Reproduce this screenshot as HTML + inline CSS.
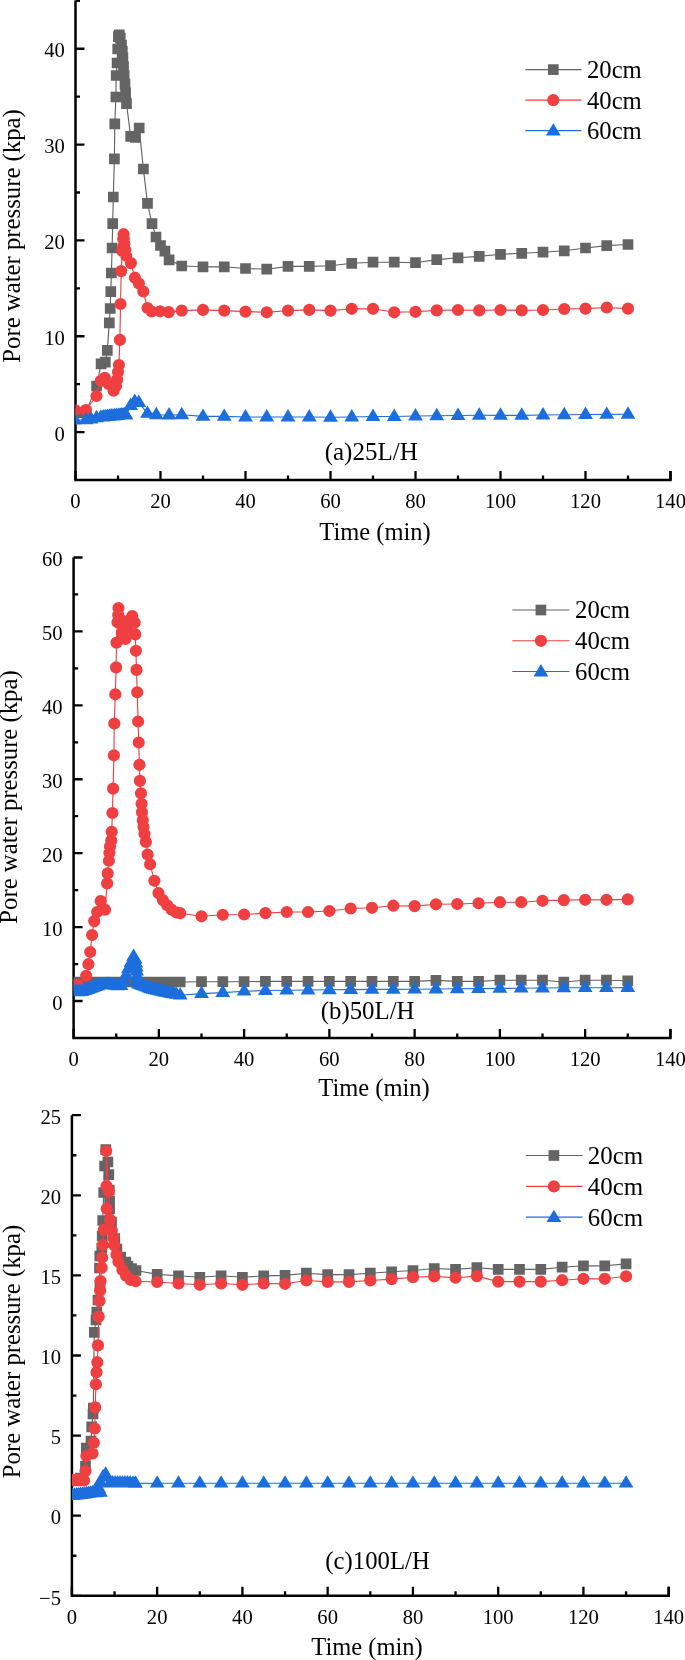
<!DOCTYPE html>
<html><head><meta charset="utf-8"><style>
html,body{margin:0;padding:0;background:#fff;}
svg{display:block;}
text{font-family:"Liberation Serif",serif;fill:#000;}
</style></head><body>
<svg style="will-change:transform" width="685" height="1660" viewBox="0 0 685 1660">
<rect width="685" height="1660" fill="#fff"/>
<g><path d="M75.5 0.5V480H670.5V471" fill="none" stroke="#000" stroke-width="2.5" stroke-linejoin="miter"/><path d="M75.5 432.08h9M75.5 384.17h4.5M75.5 336.25h9M75.5 288.34h4.5M75.5 240.42h9M75.5 192.51h4.5M75.5 144.59h9M75.5 96.68h4.5M75.5 48.76h9M75.5 0.85h4.5M75.5 480v-9M118 480v-4.5M160.5 480v-9M203 480v-4.5M245.5 480v-9M288 480v-4.5M330.5 480v-9M373 480v-4.5M415.5 480v-9M458 480v-4.5M500.5 480v-9M543 480v-4.5M585.5 480v-9M628 480v-4.5M670.5 480v-9" stroke="#000" stroke-width="2.3" fill="none"/><g font-size="20.6"><text x="64.8" y="440.78" text-anchor="end">0</text><text x="64.8" y="344.95" text-anchor="end">10</text><text x="64.8" y="249.12" text-anchor="end">20</text><text x="64.8" y="153.29" text-anchor="end">30</text><text x="64.8" y="57.46" text-anchor="end">40</text><text x="75.5" y="507.6" text-anchor="middle">0</text><text x="160.5" y="507.6" text-anchor="middle">20</text><text x="245.5" y="507.6" text-anchor="middle">40</text><text x="330.5" y="507.6" text-anchor="middle">60</text><text x="415.5" y="507.6" text-anchor="middle">80</text><text x="500.5" y="507.6" text-anchor="middle">100</text><text x="585.5" y="507.6" text-anchor="middle">120</text><text x="670.5" y="507.6" text-anchor="middle">140</text></g><text x="375" y="539.8" text-anchor="middle" font-size="24.5">Time (min)</text><text transform="translate(19.9 236) rotate(-90)" text-anchor="middle" font-size="24.4" textLength="253.5" lengthAdjust="spacingAndGlyphs">Pore water pressure (kpa)</text><text x="324.7" y="459.6" font-size="24.3" textLength="93.1" lengthAdjust="spacingAndGlyphs">(a)25L/H</text></g><g clip-path="url(#c0)"><clipPath id="c0"><rect x="75.5" y="-29.5" width="615" height="509.5"/></clipPath><polyline points="75.5,413 80.4,413 86,412 96.6,386 101.1,363.8 105.3,362.2 107.3,350.4 109.3,322.8 110.2,308.5 110.8,291.7 111.4,273 112.1,248 112.7,223.7 113.3,197 114.4,158.8 114.8,123.8 115.9,97 116.2,75.5 117.1,63 117.7,49 118.4,36.6 119.3,34.8 120.3,38 121.5,45 122.3,51.4 122.9,57.9 123.5,66.6 124.1,75.4 125,84.1 125.6,92.9 126.5,103.7 130.7,136.4 135.3,137.5 139.2,128 143.4,169 147.5,203.4 152,223.7 156,237 160.5,245.5 164.9,251.2 169.1,259.8 181.75,266 203,266.8 224.25,266.8 245.5,268.5 266.75,269.2 288,266.4 309.25,266.4 330.5,265.7 351.75,263.3 373,262.2 394.25,262.2 415.5,262.7 436.75,259.6 458,257.8 479.25,256.4 500.5,254.3 521.75,253.3 543,252.2 564.25,250.8 585.5,248 606.75,245.6 628,244.5" fill="none" stroke="#626262" stroke-width="1.15" stroke-linejoin="round"/><path d="M70.15 407.65h10.7v10.7h-10.7zM75.05 407.65h10.7v10.7h-10.7zM80.65 406.65h10.7v10.7h-10.7zM91.25 380.65h10.7v10.7h-10.7zM95.75 358.45h10.7v10.7h-10.7zM99.95 356.85h10.7v10.7h-10.7zM101.95 345.05h10.7v10.7h-10.7zM103.95 317.45h10.7v10.7h-10.7zM104.85 303.15h10.7v10.7h-10.7zM105.45 286.35h10.7v10.7h-10.7zM106.05 267.65h10.7v10.7h-10.7zM106.75 242.65h10.7v10.7h-10.7zM107.35 218.35h10.7v10.7h-10.7zM107.95 191.65h10.7v10.7h-10.7zM109.05 153.45h10.7v10.7h-10.7zM109.45 118.45h10.7v10.7h-10.7zM110.55 91.65h10.7v10.7h-10.7zM110.85 70.15h10.7v10.7h-10.7zM111.75 57.65h10.7v10.7h-10.7zM112.35 43.65h10.7v10.7h-10.7zM113.05 31.25h10.7v10.7h-10.7zM113.95 29.45h10.7v10.7h-10.7zM114.95 32.65h10.7v10.7h-10.7zM116.15 39.65h10.7v10.7h-10.7zM116.95 46.05h10.7v10.7h-10.7zM117.55 52.55h10.7v10.7h-10.7zM118.15 61.25h10.7v10.7h-10.7zM118.75 70.05h10.7v10.7h-10.7zM119.65 78.75h10.7v10.7h-10.7zM120.25 87.55h10.7v10.7h-10.7zM121.15 98.35h10.7v10.7h-10.7zM125.35 131.05h10.7v10.7h-10.7zM129.95 132.15h10.7v10.7h-10.7zM133.85 122.65h10.7v10.7h-10.7zM138.05 163.65h10.7v10.7h-10.7zM142.15 198.05h10.7v10.7h-10.7zM146.65 218.35h10.7v10.7h-10.7zM150.65 231.65h10.7v10.7h-10.7zM155.15 240.15h10.7v10.7h-10.7zM159.55 245.85h10.7v10.7h-10.7zM163.75 254.45h10.7v10.7h-10.7zM176.4 260.65h10.7v10.7h-10.7zM197.65 261.45h10.7v10.7h-10.7zM218.9 261.45h10.7v10.7h-10.7zM240.15 263.15h10.7v10.7h-10.7zM261.4 263.85h10.7v10.7h-10.7zM282.65 261.05h10.7v10.7h-10.7zM303.9 261.05h10.7v10.7h-10.7zM325.15 260.35h10.7v10.7h-10.7zM346.4 257.95h10.7v10.7h-10.7zM367.65 256.85h10.7v10.7h-10.7zM388.9 256.85h10.7v10.7h-10.7zM410.15 257.35h10.7v10.7h-10.7zM431.4 254.25h10.7v10.7h-10.7zM452.65 252.45h10.7v10.7h-10.7zM473.9 251.05h10.7v10.7h-10.7zM495.15 248.95h10.7v10.7h-10.7zM516.4 247.95h10.7v10.7h-10.7zM537.65 246.85h10.7v10.7h-10.7zM558.9 245.45h10.7v10.7h-10.7zM580.15 242.65h10.7v10.7h-10.7zM601.4 240.25h10.7v10.7h-10.7zM622.65 239.15h10.7v10.7h-10.7z" fill="#646464"/><polyline points="75,410 85.9,410 96.5,396 100.8,380.8 104.8,377.9 108.5,384 113.6,390.7 116,386 117.1,379.6 118,372 118.9,365 119.9,339.9 120.5,304 121.2,271.1 122.2,251 123.2,239 123.6,234.2 123.8,238.5 124.3,243.4 123,247.5 125.2,250 126.2,255.8 130.9,263.1 134.9,277.7 138.9,283.5 143.3,291.5 147.5,308 151.6,311.5 160.1,311.3 168.8,312.1 181.75,310.6 203,309.9 224.25,310.6 245.5,311.6 266.75,312.3 288,310.6 309.25,309.9 330.5,310.6 351.75,308.8 373,308.8 394.25,312.3 415.5,311.8 436.75,310.4 458,310 479.25,310.4 500.5,310 521.75,310.4 543,310 564.25,309 585.5,308.6 606.75,307.5 628,308.6" fill="none" stroke="#EF3F40" stroke-width="1.15" stroke-linejoin="round"/><path d="M68.9 410a6.1 6.1 0 1 0 12.2 0a6.1 6.1 0 1 0 -12.2 0zM79.8 410a6.1 6.1 0 1 0 12.2 0a6.1 6.1 0 1 0 -12.2 0zM90.4 396a6.1 6.1 0 1 0 12.2 0a6.1 6.1 0 1 0 -12.2 0zM94.7 380.8a6.1 6.1 0 1 0 12.2 0a6.1 6.1 0 1 0 -12.2 0zM98.7 377.9a6.1 6.1 0 1 0 12.2 0a6.1 6.1 0 1 0 -12.2 0zM102.4 384a6.1 6.1 0 1 0 12.2 0a6.1 6.1 0 1 0 -12.2 0zM107.5 390.7a6.1 6.1 0 1 0 12.2 0a6.1 6.1 0 1 0 -12.2 0zM109.9 386a6.1 6.1 0 1 0 12.2 0a6.1 6.1 0 1 0 -12.2 0zM111 379.6a6.1 6.1 0 1 0 12.2 0a6.1 6.1 0 1 0 -12.2 0zM111.9 372a6.1 6.1 0 1 0 12.2 0a6.1 6.1 0 1 0 -12.2 0zM112.8 365a6.1 6.1 0 1 0 12.2 0a6.1 6.1 0 1 0 -12.2 0zM113.8 339.9a6.1 6.1 0 1 0 12.2 0a6.1 6.1 0 1 0 -12.2 0zM114.4 304a6.1 6.1 0 1 0 12.2 0a6.1 6.1 0 1 0 -12.2 0zM115.1 271.1a6.1 6.1 0 1 0 12.2 0a6.1 6.1 0 1 0 -12.2 0zM116.1 251a6.1 6.1 0 1 0 12.2 0a6.1 6.1 0 1 0 -12.2 0zM117.1 239a6.1 6.1 0 1 0 12.2 0a6.1 6.1 0 1 0 -12.2 0zM117.5 234.2a6.1 6.1 0 1 0 12.2 0a6.1 6.1 0 1 0 -12.2 0zM117.7 238.5a6.1 6.1 0 1 0 12.2 0a6.1 6.1 0 1 0 -12.2 0zM118.2 243.4a6.1 6.1 0 1 0 12.2 0a6.1 6.1 0 1 0 -12.2 0zM116.9 247.5a6.1 6.1 0 1 0 12.2 0a6.1 6.1 0 1 0 -12.2 0zM119.1 250a6.1 6.1 0 1 0 12.2 0a6.1 6.1 0 1 0 -12.2 0zM120.1 255.8a6.1 6.1 0 1 0 12.2 0a6.1 6.1 0 1 0 -12.2 0zM124.8 263.1a6.1 6.1 0 1 0 12.2 0a6.1 6.1 0 1 0 -12.2 0zM128.8 277.7a6.1 6.1 0 1 0 12.2 0a6.1 6.1 0 1 0 -12.2 0zM132.8 283.5a6.1 6.1 0 1 0 12.2 0a6.1 6.1 0 1 0 -12.2 0zM137.2 291.5a6.1 6.1 0 1 0 12.2 0a6.1 6.1 0 1 0 -12.2 0zM141.4 308a6.1 6.1 0 1 0 12.2 0a6.1 6.1 0 1 0 -12.2 0zM145.5 311.5a6.1 6.1 0 1 0 12.2 0a6.1 6.1 0 1 0 -12.2 0zM154 311.3a6.1 6.1 0 1 0 12.2 0a6.1 6.1 0 1 0 -12.2 0zM162.7 312.1a6.1 6.1 0 1 0 12.2 0a6.1 6.1 0 1 0 -12.2 0zM175.65 310.6a6.1 6.1 0 1 0 12.2 0a6.1 6.1 0 1 0 -12.2 0zM196.9 309.9a6.1 6.1 0 1 0 12.2 0a6.1 6.1 0 1 0 -12.2 0zM218.15 310.6a6.1 6.1 0 1 0 12.2 0a6.1 6.1 0 1 0 -12.2 0zM239.4 311.6a6.1 6.1 0 1 0 12.2 0a6.1 6.1 0 1 0 -12.2 0zM260.65 312.3a6.1 6.1 0 1 0 12.2 0a6.1 6.1 0 1 0 -12.2 0zM281.9 310.6a6.1 6.1 0 1 0 12.2 0a6.1 6.1 0 1 0 -12.2 0zM303.15 309.9a6.1 6.1 0 1 0 12.2 0a6.1 6.1 0 1 0 -12.2 0zM324.4 310.6a6.1 6.1 0 1 0 12.2 0a6.1 6.1 0 1 0 -12.2 0zM345.65 308.8a6.1 6.1 0 1 0 12.2 0a6.1 6.1 0 1 0 -12.2 0zM366.9 308.8a6.1 6.1 0 1 0 12.2 0a6.1 6.1 0 1 0 -12.2 0zM388.15 312.3a6.1 6.1 0 1 0 12.2 0a6.1 6.1 0 1 0 -12.2 0zM409.4 311.8a6.1 6.1 0 1 0 12.2 0a6.1 6.1 0 1 0 -12.2 0zM430.65 310.4a6.1 6.1 0 1 0 12.2 0a6.1 6.1 0 1 0 -12.2 0zM451.9 310a6.1 6.1 0 1 0 12.2 0a6.1 6.1 0 1 0 -12.2 0zM473.15 310.4a6.1 6.1 0 1 0 12.2 0a6.1 6.1 0 1 0 -12.2 0zM494.4 310a6.1 6.1 0 1 0 12.2 0a6.1 6.1 0 1 0 -12.2 0zM515.65 310.4a6.1 6.1 0 1 0 12.2 0a6.1 6.1 0 1 0 -12.2 0zM536.9 310a6.1 6.1 0 1 0 12.2 0a6.1 6.1 0 1 0 -12.2 0zM558.15 309a6.1 6.1 0 1 0 12.2 0a6.1 6.1 0 1 0 -12.2 0zM579.4 308.6a6.1 6.1 0 1 0 12.2 0a6.1 6.1 0 1 0 -12.2 0zM600.65 307.5a6.1 6.1 0 1 0 12.2 0a6.1 6.1 0 1 0 -12.2 0zM621.9 308.6a6.1 6.1 0 1 0 12.2 0a6.1 6.1 0 1 0 -12.2 0z" fill="#EF3F40"/><polyline points="75,420 86,419.9 91,419 96.5,417.8 100.9,417.2 103.2,417 105.3,416.7 107.4,416.5 109.4,416.3 111.2,416 113,416 114.8,415.8 116.5,415.6 118.3,415.4 120,415.2 121.5,415 123,415 124.5,415 126,415 130.6,405.6 134.7,401.5 138.8,402.6 147.5,413.4 156.3,414.8 169.1,415.1 181.75,414.8 203,416.4 224.25,416.4 245.5,417 266.75,417 288,417 309.25,417 330.5,417.3 351.75,417 373,416.5 394.25,416.5 415.5,416 436.75,415.8 458,415.5 479.25,415.3 500.5,415.3 521.75,415.3 543,415 564.25,414.8 585.5,414.5 606.75,414.4 628,414.3" fill="none" stroke="#1F6FDD" stroke-width="1.15" stroke-linejoin="round"/><path d="M75 412L82.4 424.4L67.6 424.4zM86 411.9L93.4 424.3L78.6 424.3zM91 411L98.4 423.4L83.6 423.4zM96.5 409.8L103.9 422.2L89.1 422.2zM100.9 409.2L108.3 421.6L93.5 421.6zM103.2 409L110.6 421.4L95.8 421.4zM105.3 408.7L112.7 421.1L97.9 421.1zM107.4 408.5L114.8 420.9L100 420.9zM109.4 408.3L116.8 420.7L102 420.7zM111.2 408L118.6 420.4L103.8 420.4zM113 408L120.4 420.4L105.6 420.4zM114.8 407.8L122.2 420.2L107.4 420.2zM116.5 407.6L123.9 420L109.1 420zM118.3 407.4L125.7 419.8L110.9 419.8zM120 407.2L127.4 419.6L112.6 419.6zM121.5 407L128.9 419.4L114.1 419.4zM123 407L130.4 419.4L115.6 419.4zM124.5 407L131.9 419.4L117.1 419.4zM126 407L133.4 419.4L118.6 419.4zM130.6 397.6L138 410L123.2 410zM134.7 393.5L142.1 405.9L127.3 405.9zM138.8 394.6L146.2 407L131.4 407zM147.5 405.4L154.9 417.8L140.1 417.8zM156.3 406.8L163.7 419.2L148.9 419.2zM169.1 407.1L176.5 419.5L161.7 419.5zM181.75 406.8L189.15 419.2L174.35 419.2zM203 408.4L210.4 420.8L195.6 420.8zM224.25 408.4L231.65 420.8L216.85 420.8zM245.5 409L252.9 421.4L238.1 421.4zM266.75 409L274.15 421.4L259.35 421.4zM288 409L295.4 421.4L280.6 421.4zM309.25 409L316.65 421.4L301.85 421.4zM330.5 409.3L337.9 421.7L323.1 421.7zM351.75 409L359.15 421.4L344.35 421.4zM373 408.5L380.4 420.9L365.6 420.9zM394.25 408.5L401.65 420.9L386.85 420.9zM415.5 408L422.9 420.4L408.1 420.4zM436.75 407.8L444.15 420.2L429.35 420.2zM458 407.5L465.4 419.9L450.6 419.9zM479.25 407.3L486.65 419.7L471.85 419.7zM500.5 407.3L507.9 419.7L493.1 419.7zM521.75 407.3L529.15 419.7L514.35 419.7zM543 407L550.4 419.4L535.6 419.4zM564.25 406.8L571.65 419.2L556.85 419.2zM585.5 406.5L592.9 418.9L578.1 418.9zM606.75 406.4L614.15 418.8L599.35 418.8zM628 406.3L635.4 418.7L620.6 418.7z" fill="#1C6EDD"/></g><g><path d="M525.3 69.6H581.5" stroke="#626262" stroke-width="1.1"/><path d="M547.95 64.25h10.7v10.7h-10.7z" fill="#646464"/><text x="587" y="78" font-size="25.8" textLength="54.8" lengthAdjust="spacingAndGlyphs">20cm</text><path d="M525.3 100.1H581.5" stroke="#EF3F40" stroke-width="1.1"/><path d="M547.2 100.1a6.1 6.1 0 1 0 12.2 0a6.1 6.1 0 1 0 -12.2 0z" fill="#EF3F40"/><text x="587" y="108.6" font-size="25.8" textLength="54.8" lengthAdjust="spacingAndGlyphs">40cm</text><path d="M525.3 130.6H581.5" stroke="#1F6FDD" stroke-width="1.1"/><path d="M553.3 123.2L560.7 135.6L545.9 135.6z" fill="#1C6EDD"/><text x="587" y="139.2" font-size="25.8" textLength="54.8" lengthAdjust="spacingAndGlyphs">60cm</text></g>
<g><path d="M73.6 557.5V1038H670.4V1029" fill="none" stroke="#000" stroke-width="2.5" stroke-linejoin="miter"/><path d="M73.6 1001h9M73.6 964.04h4.5M73.6 927.08h9M73.6 890.12h4.5M73.6 853.16h9M73.6 816.2h4.5M73.6 779.24h9M73.6 742.28h4.5M73.6 705.32h9M73.6 668.36h4.5M73.6 631.4h9M73.6 594.44h4.5M73.6 557.48h9M73.6 1038v-9M116.23 1038v-4.5M158.86 1038v-9M201.49 1038v-4.5M244.11 1038v-9M286.74 1038v-4.5M329.37 1038v-9M372 1038v-4.5M414.63 1038v-9M457.26 1038v-4.5M499.89 1038v-9M542.51 1038v-4.5M585.14 1038v-9M627.77 1038v-4.5M670.4 1038v-9" stroke="#000" stroke-width="2.3" fill="none"/><g font-size="20.6"><text x="62.6" y="1009.7" text-anchor="end">0</text><text x="62.6" y="935.78" text-anchor="end">10</text><text x="62.6" y="861.86" text-anchor="end">20</text><text x="62.6" y="787.94" text-anchor="end">30</text><text x="62.6" y="714.02" text-anchor="end">40</text><text x="62.6" y="640.1" text-anchor="end">50</text><text x="62.6" y="566.18" text-anchor="end">60</text><text x="73.6" y="1065.8" text-anchor="middle">0</text><text x="158.86" y="1065.8" text-anchor="middle">20</text><text x="244.11" y="1065.8" text-anchor="middle">40</text><text x="329.37" y="1065.8" text-anchor="middle">60</text><text x="414.63" y="1065.8" text-anchor="middle">80</text><text x="499.89" y="1065.8" text-anchor="middle">100</text><text x="585.14" y="1065.8" text-anchor="middle">120</text><text x="670.4" y="1065.8" text-anchor="middle">140</text></g><text x="374" y="1095.6" text-anchor="middle" font-size="24.5">Time (min)</text><text transform="translate(17 797) rotate(-90)" text-anchor="middle" font-size="24.4" textLength="253.4" lengthAdjust="spacingAndGlyphs">Pore water pressure (kpa)</text><text x="320.7" y="1018.5" font-size="24.3" textLength="93.9" lengthAdjust="spacingAndGlyphs">(b)50L/H</text></g><g clip-path="url(#c1)"><clipPath id="c1"><rect x="73.6" y="527.5" width="616.8" height="510.5"/></clipPath><polyline points="73.6,982 75.73,982 77.86,982 79.99,982 82.13,982 84.26,982 86.39,982 88.52,982 90.65,982 92.78,982 94.91,982 97.05,982 99.18,982 101.31,982 103.44,982 105.57,982 107.7,982 109.83,982 111.97,982 114.1,982 116.23,982 118.36,982 120.49,982 122.62,982 124.75,982 126.89,982 129.02,982 131.15,982 133.28,982 135.41,982 137.54,982 139.67,982 141.81,982 143.94,982 146.07,982 148.2,982 150.33,982 152.46,982 154.59,982 156.73,982 158.86,982 160.99,982 163.12,982 165.25,982 167.38,982 169.51,982 171.65,982 173.78,982 175.91,982 178.04,982 180.17,982 201.49,981.7 222.8,981.7 244.11,981.7 265.43,981.4 286.74,981.4 308.06,981.4 329.37,981.4 350.69,981.4 372,981.4 393.31,981.4 414.63,981.4 435.94,980.4 457.26,981.4 478.57,981.4 499.89,980.2 521.2,980.2 542.51,980.2 563.83,982 585.14,980.2 606.46,980.2 627.77,980.8" fill="none" stroke="#626262" stroke-width="1.15" stroke-linejoin="round"/><path d="M68.25 976.65h10.7v10.7h-10.7zM70.38 976.65h10.7v10.7h-10.7zM72.51 976.65h10.7v10.7h-10.7zM74.64 976.65h10.7v10.7h-10.7zM76.78 976.65h10.7v10.7h-10.7zM78.91 976.65h10.7v10.7h-10.7zM81.04 976.65h10.7v10.7h-10.7zM83.17 976.65h10.7v10.7h-10.7zM85.3 976.65h10.7v10.7h-10.7zM87.43 976.65h10.7v10.7h-10.7zM89.56 976.65h10.7v10.7h-10.7zM91.7 976.65h10.7v10.7h-10.7zM93.83 976.65h10.7v10.7h-10.7zM95.96 976.65h10.7v10.7h-10.7zM98.09 976.65h10.7v10.7h-10.7zM100.22 976.65h10.7v10.7h-10.7zM102.35 976.65h10.7v10.7h-10.7zM104.48 976.65h10.7v10.7h-10.7zM106.62 976.65h10.7v10.7h-10.7zM108.75 976.65h10.7v10.7h-10.7zM110.88 976.65h10.7v10.7h-10.7zM113.01 976.65h10.7v10.7h-10.7zM115.14 976.65h10.7v10.7h-10.7zM117.27 976.65h10.7v10.7h-10.7zM119.4 976.65h10.7v10.7h-10.7zM121.54 976.65h10.7v10.7h-10.7zM123.67 976.65h10.7v10.7h-10.7zM125.8 976.65h10.7v10.7h-10.7zM127.93 976.65h10.7v10.7h-10.7zM130.06 976.65h10.7v10.7h-10.7zM132.19 976.65h10.7v10.7h-10.7zM134.32 976.65h10.7v10.7h-10.7zM136.46 976.65h10.7v10.7h-10.7zM138.59 976.65h10.7v10.7h-10.7zM140.72 976.65h10.7v10.7h-10.7zM142.85 976.65h10.7v10.7h-10.7zM144.98 976.65h10.7v10.7h-10.7zM147.11 976.65h10.7v10.7h-10.7zM149.24 976.65h10.7v10.7h-10.7zM151.38 976.65h10.7v10.7h-10.7zM153.51 976.65h10.7v10.7h-10.7zM155.64 976.65h10.7v10.7h-10.7zM157.77 976.65h10.7v10.7h-10.7zM159.9 976.65h10.7v10.7h-10.7zM162.03 976.65h10.7v10.7h-10.7zM164.16 976.65h10.7v10.7h-10.7zM166.3 976.65h10.7v10.7h-10.7zM168.43 976.65h10.7v10.7h-10.7zM170.56 976.65h10.7v10.7h-10.7zM172.69 976.65h10.7v10.7h-10.7zM174.82 976.65h10.7v10.7h-10.7zM196.14 976.35h10.7v10.7h-10.7zM217.45 976.35h10.7v10.7h-10.7zM238.76 976.35h10.7v10.7h-10.7zM260.08 976.05h10.7v10.7h-10.7zM281.39 976.05h10.7v10.7h-10.7zM302.71 976.05h10.7v10.7h-10.7zM324.02 976.05h10.7v10.7h-10.7zM345.34 976.05h10.7v10.7h-10.7zM366.65 976.05h10.7v10.7h-10.7zM387.96 976.05h10.7v10.7h-10.7zM409.28 976.05h10.7v10.7h-10.7zM430.59 975.05h10.7v10.7h-10.7zM451.91 976.05h10.7v10.7h-10.7zM473.22 976.05h10.7v10.7h-10.7zM494.54 974.85h10.7v10.7h-10.7zM515.85 974.85h10.7v10.7h-10.7zM537.16 974.85h10.7v10.7h-10.7zM558.48 976.65h10.7v10.7h-10.7zM579.79 974.85h10.7v10.7h-10.7zM601.11 974.85h10.7v10.7h-10.7zM622.42 975.45h10.7v10.7h-10.7z" fill="#646464"/><polyline points="73.5,985 78,985 86.2,975.8 88.4,964.2 90.2,952 92.1,935 94.2,921.1 97.2,912 100.7,901 105,909.7 107.1,883.4 107.7,873.4 108.9,860.7 109.4,852.8 110,846.6 111.2,840.5 111.7,831.8 112.4,813 113.1,788.6 113.9,755.3 114.3,723.5 115.3,694.3 116.1,667.4 116.5,642.6 117.5,622.3 118.2,615 118.5,608.1 121,620 121.8,633 123,630 125.4,639 127,628 129.5,620 132.3,616 134.6,622.6 135.2,634.4 135.9,650.8 136.5,669.9 137.2,692.3 138.1,721.5 138.7,742.5 139.4,764.8 139.9,780.9 141,793.3 141.6,803.8 142,812.3 142.8,820.3 143.5,827 144.5,834 145.9,841.9 147.6,854.5 150.1,864.2 154.4,880.8 158.5,893.1 162.9,900.1 167.2,905.3 171.6,909.7 176,912.3 180.17,913.2 201.49,916.3 222.8,914.8 244.11,914.5 265.43,913.1 286.74,912 308.06,912 329.37,911 350.69,908.5 372,907.8 393.31,905.7 414.63,906.1 435.94,904.3 457.26,904 478.57,903.3 499.89,902.2 521.2,902.2 542.51,900.8 563.83,900.1 585.14,899.8 606.46,899.8 627.77,899.4" fill="none" stroke="#EF3F40" stroke-width="1.15" stroke-linejoin="round"/><path d="M67.4 985a6.1 6.1 0 1 0 12.2 0a6.1 6.1 0 1 0 -12.2 0zM71.9 985a6.1 6.1 0 1 0 12.2 0a6.1 6.1 0 1 0 -12.2 0zM80.1 975.8a6.1 6.1 0 1 0 12.2 0a6.1 6.1 0 1 0 -12.2 0zM82.3 964.2a6.1 6.1 0 1 0 12.2 0a6.1 6.1 0 1 0 -12.2 0zM84.1 952a6.1 6.1 0 1 0 12.2 0a6.1 6.1 0 1 0 -12.2 0zM86 935a6.1 6.1 0 1 0 12.2 0a6.1 6.1 0 1 0 -12.2 0zM88.1 921.1a6.1 6.1 0 1 0 12.2 0a6.1 6.1 0 1 0 -12.2 0zM91.1 912a6.1 6.1 0 1 0 12.2 0a6.1 6.1 0 1 0 -12.2 0zM94.6 901a6.1 6.1 0 1 0 12.2 0a6.1 6.1 0 1 0 -12.2 0zM98.9 909.7a6.1 6.1 0 1 0 12.2 0a6.1 6.1 0 1 0 -12.2 0zM101 883.4a6.1 6.1 0 1 0 12.2 0a6.1 6.1 0 1 0 -12.2 0zM101.6 873.4a6.1 6.1 0 1 0 12.2 0a6.1 6.1 0 1 0 -12.2 0zM102.8 860.7a6.1 6.1 0 1 0 12.2 0a6.1 6.1 0 1 0 -12.2 0zM103.3 852.8a6.1 6.1 0 1 0 12.2 0a6.1 6.1 0 1 0 -12.2 0zM103.9 846.6a6.1 6.1 0 1 0 12.2 0a6.1 6.1 0 1 0 -12.2 0zM105.1 840.5a6.1 6.1 0 1 0 12.2 0a6.1 6.1 0 1 0 -12.2 0zM105.6 831.8a6.1 6.1 0 1 0 12.2 0a6.1 6.1 0 1 0 -12.2 0zM106.3 813a6.1 6.1 0 1 0 12.2 0a6.1 6.1 0 1 0 -12.2 0zM107 788.6a6.1 6.1 0 1 0 12.2 0a6.1 6.1 0 1 0 -12.2 0zM107.8 755.3a6.1 6.1 0 1 0 12.2 0a6.1 6.1 0 1 0 -12.2 0zM108.2 723.5a6.1 6.1 0 1 0 12.2 0a6.1 6.1 0 1 0 -12.2 0zM109.2 694.3a6.1 6.1 0 1 0 12.2 0a6.1 6.1 0 1 0 -12.2 0zM110 667.4a6.1 6.1 0 1 0 12.2 0a6.1 6.1 0 1 0 -12.2 0zM110.4 642.6a6.1 6.1 0 1 0 12.2 0a6.1 6.1 0 1 0 -12.2 0zM111.4 622.3a6.1 6.1 0 1 0 12.2 0a6.1 6.1 0 1 0 -12.2 0zM112.1 615a6.1 6.1 0 1 0 12.2 0a6.1 6.1 0 1 0 -12.2 0zM112.4 608.1a6.1 6.1 0 1 0 12.2 0a6.1 6.1 0 1 0 -12.2 0zM114.9 620a6.1 6.1 0 1 0 12.2 0a6.1 6.1 0 1 0 -12.2 0zM115.7 633a6.1 6.1 0 1 0 12.2 0a6.1 6.1 0 1 0 -12.2 0zM116.9 630a6.1 6.1 0 1 0 12.2 0a6.1 6.1 0 1 0 -12.2 0zM119.3 639a6.1 6.1 0 1 0 12.2 0a6.1 6.1 0 1 0 -12.2 0zM120.9 628a6.1 6.1 0 1 0 12.2 0a6.1 6.1 0 1 0 -12.2 0zM123.4 620a6.1 6.1 0 1 0 12.2 0a6.1 6.1 0 1 0 -12.2 0zM126.2 616a6.1 6.1 0 1 0 12.2 0a6.1 6.1 0 1 0 -12.2 0zM128.5 622.6a6.1 6.1 0 1 0 12.2 0a6.1 6.1 0 1 0 -12.2 0zM129.1 634.4a6.1 6.1 0 1 0 12.2 0a6.1 6.1 0 1 0 -12.2 0zM129.8 650.8a6.1 6.1 0 1 0 12.2 0a6.1 6.1 0 1 0 -12.2 0zM130.4 669.9a6.1 6.1 0 1 0 12.2 0a6.1 6.1 0 1 0 -12.2 0zM131.1 692.3a6.1 6.1 0 1 0 12.2 0a6.1 6.1 0 1 0 -12.2 0zM132 721.5a6.1 6.1 0 1 0 12.2 0a6.1 6.1 0 1 0 -12.2 0zM132.6 742.5a6.1 6.1 0 1 0 12.2 0a6.1 6.1 0 1 0 -12.2 0zM133.3 764.8a6.1 6.1 0 1 0 12.2 0a6.1 6.1 0 1 0 -12.2 0zM133.8 780.9a6.1 6.1 0 1 0 12.2 0a6.1 6.1 0 1 0 -12.2 0zM134.9 793.3a6.1 6.1 0 1 0 12.2 0a6.1 6.1 0 1 0 -12.2 0zM135.5 803.8a6.1 6.1 0 1 0 12.2 0a6.1 6.1 0 1 0 -12.2 0zM135.9 812.3a6.1 6.1 0 1 0 12.2 0a6.1 6.1 0 1 0 -12.2 0zM136.7 820.3a6.1 6.1 0 1 0 12.2 0a6.1 6.1 0 1 0 -12.2 0zM137.4 827a6.1 6.1 0 1 0 12.2 0a6.1 6.1 0 1 0 -12.2 0zM138.4 834a6.1 6.1 0 1 0 12.2 0a6.1 6.1 0 1 0 -12.2 0zM139.8 841.9a6.1 6.1 0 1 0 12.2 0a6.1 6.1 0 1 0 -12.2 0zM141.5 854.5a6.1 6.1 0 1 0 12.2 0a6.1 6.1 0 1 0 -12.2 0zM144 864.2a6.1 6.1 0 1 0 12.2 0a6.1 6.1 0 1 0 -12.2 0zM148.3 880.8a6.1 6.1 0 1 0 12.2 0a6.1 6.1 0 1 0 -12.2 0zM152.4 893.1a6.1 6.1 0 1 0 12.2 0a6.1 6.1 0 1 0 -12.2 0zM156.8 900.1a6.1 6.1 0 1 0 12.2 0a6.1 6.1 0 1 0 -12.2 0zM161.1 905.3a6.1 6.1 0 1 0 12.2 0a6.1 6.1 0 1 0 -12.2 0zM165.5 909.7a6.1 6.1 0 1 0 12.2 0a6.1 6.1 0 1 0 -12.2 0zM169.9 912.3a6.1 6.1 0 1 0 12.2 0a6.1 6.1 0 1 0 -12.2 0zM174.07 913.2a6.1 6.1 0 1 0 12.2 0a6.1 6.1 0 1 0 -12.2 0zM195.39 916.3a6.1 6.1 0 1 0 12.2 0a6.1 6.1 0 1 0 -12.2 0zM216.7 914.8a6.1 6.1 0 1 0 12.2 0a6.1 6.1 0 1 0 -12.2 0zM238.01 914.5a6.1 6.1 0 1 0 12.2 0a6.1 6.1 0 1 0 -12.2 0zM259.33 913.1a6.1 6.1 0 1 0 12.2 0a6.1 6.1 0 1 0 -12.2 0zM280.64 912a6.1 6.1 0 1 0 12.2 0a6.1 6.1 0 1 0 -12.2 0zM301.96 912a6.1 6.1 0 1 0 12.2 0a6.1 6.1 0 1 0 -12.2 0zM323.27 911a6.1 6.1 0 1 0 12.2 0a6.1 6.1 0 1 0 -12.2 0zM344.59 908.5a6.1 6.1 0 1 0 12.2 0a6.1 6.1 0 1 0 -12.2 0zM365.9 907.8a6.1 6.1 0 1 0 12.2 0a6.1 6.1 0 1 0 -12.2 0zM387.21 905.7a6.1 6.1 0 1 0 12.2 0a6.1 6.1 0 1 0 -12.2 0zM408.53 906.1a6.1 6.1 0 1 0 12.2 0a6.1 6.1 0 1 0 -12.2 0zM429.84 904.3a6.1 6.1 0 1 0 12.2 0a6.1 6.1 0 1 0 -12.2 0zM451.16 904a6.1 6.1 0 1 0 12.2 0a6.1 6.1 0 1 0 -12.2 0zM472.47 903.3a6.1 6.1 0 1 0 12.2 0a6.1 6.1 0 1 0 -12.2 0zM493.79 902.2a6.1 6.1 0 1 0 12.2 0a6.1 6.1 0 1 0 -12.2 0zM515.1 902.2a6.1 6.1 0 1 0 12.2 0a6.1 6.1 0 1 0 -12.2 0zM536.41 900.8a6.1 6.1 0 1 0 12.2 0a6.1 6.1 0 1 0 -12.2 0zM557.73 900.1a6.1 6.1 0 1 0 12.2 0a6.1 6.1 0 1 0 -12.2 0zM579.04 899.8a6.1 6.1 0 1 0 12.2 0a6.1 6.1 0 1 0 -12.2 0zM600.36 899.8a6.1 6.1 0 1 0 12.2 0a6.1 6.1 0 1 0 -12.2 0zM621.67 899.4a6.1 6.1 0 1 0 12.2 0a6.1 6.1 0 1 0 -12.2 0z" fill="#EF3F40"/><polyline points="73.5,991.97 75.5,991.86 77.5,991.75 79.5,991.64 81.5,991.53 83.5,990.95 85.5,990.23 87.5,989.5 89.5,988.77 91.5,988.05 93.5,987.31 95.5,986.54 97.5,985.76 99.5,984.99 101.5,984.75 103.5,984.69 105.5,984.63 107.5,984.58 109.5,984.51 111.5,984.75 113.5,985.08 115.5,985.42 117.5,985.75 121,985.5 123.5,980.5 126,975 128.5,968.5 131,962.5 133.6,956.4 135,959 135.8,963 136.3,967 136.6,971 137,976 137.5,981 138.5,984 140.5,984.77 142.6,985.58 144.7,986.38 146.8,987.22 148.9,988.06 151,988.75 153.1,989.26 155.2,989.78 157.3,990.3 159.4,990.82 161.5,991.34 163.6,991.85 165.7,992.33 167.8,992.72 169.9,993.1 172,993.49 174.1,993.88 176.2,994.26 180.2,995.2 201.49,993.6 222.8,992.6 244.11,991.2 265.43,990.5 286.74,990.2 308.06,990 329.37,989.8 350.69,989.6 372,989.4 393.31,989.4 414.63,989.2 435.94,989 457.26,988.8 478.57,988.6 499.89,988.4 521.2,988.2 542.51,988 563.83,987.8 585.14,987.7 606.46,987.7 627.77,987.6" fill="none" stroke="#1F6FDD" stroke-width="1.15" stroke-linejoin="round"/><path d="M73.5 983.97L80.9 996.37L66.1 996.37zM75.5 983.86L82.9 996.26L68.1 996.26zM77.5 983.75L84.9 996.15L70.1 996.15zM79.5 983.64L86.9 996.04L72.1 996.04zM81.5 983.53L88.9 995.93L74.1 995.93zM83.5 982.95L90.9 995.35L76.1 995.35zM85.5 982.23L92.9 994.63L78.1 994.63zM87.5 981.5L94.9 993.9L80.1 993.9zM89.5 980.77L96.9 993.17L82.1 993.17zM91.5 980.05L98.9 992.45L84.1 992.45zM93.5 979.31L100.9 991.71L86.1 991.71zM95.5 978.54L102.9 990.94L88.1 990.94zM97.5 977.76L104.9 990.16L90.1 990.16zM99.5 976.99L106.9 989.39L92.1 989.39zM101.5 976.75L108.9 989.15L94.1 989.15zM103.5 976.69L110.9 989.09L96.1 989.09zM105.5 976.63L112.9 989.03L98.1 989.03zM107.5 976.58L114.9 988.98L100.1 988.98zM109.5 976.51L116.9 988.91L102.1 988.91zM111.5 976.75L118.9 989.15L104.1 989.15zM113.5 977.08L120.9 989.48L106.1 989.48zM115.5 977.42L122.9 989.82L108.1 989.82zM117.5 977.75L124.9 990.15L110.1 990.15zM121 977.5L128.4 989.9L113.6 989.9zM123.5 972.5L130.9 984.9L116.1 984.9zM126 967L133.4 979.4L118.6 979.4zM128.5 960.5L135.9 972.9L121.1 972.9zM131 954.5L138.4 966.9L123.6 966.9zM133.6 948.4L141 960.8L126.2 960.8zM135 951L142.4 963.4L127.6 963.4zM135.8 955L143.2 967.4L128.4 967.4zM136.3 959L143.7 971.4L128.9 971.4zM136.6 963L144 975.4L129.2 975.4zM137 968L144.4 980.4L129.6 980.4zM137.5 973L144.9 985.4L130.1 985.4zM138.5 976L145.9 988.4L131.1 988.4zM140.5 976.77L147.9 989.17L133.1 989.17zM142.6 977.58L150 989.98L135.2 989.98zM144.7 978.38L152.1 990.78L137.3 990.78zM146.8 979.22L154.2 991.62L139.4 991.62zM148.9 980.06L156.3 992.46L141.5 992.46zM151 980.75L158.4 993.15L143.6 993.15zM153.1 981.26L160.5 993.66L145.7 993.66zM155.2 981.78L162.6 994.18L147.8 994.18zM157.3 982.3L164.7 994.7L149.9 994.7zM159.4 982.82L166.8 995.22L152 995.22zM161.5 983.34L168.9 995.74L154.1 995.74zM163.6 983.85L171 996.25L156.2 996.25zM165.7 984.33L173.1 996.73L158.3 996.73zM167.8 984.72L175.2 997.12L160.4 997.12zM169.9 985.1L177.3 997.5L162.5 997.5zM172 985.49L179.4 997.89L164.6 997.89zM174.1 985.88L181.5 998.28L166.7 998.28zM176.2 986.26L183.6 998.66L168.8 998.66zM180.2 987.2L187.6 999.6L172.8 999.6zM201.49 985.6L208.89 998L194.09 998zM222.8 984.6L230.2 997L215.4 997zM244.11 983.2L251.51 995.6L236.71 995.6zM265.43 982.5L272.83 994.9L258.03 994.9zM286.74 982.2L294.14 994.6L279.34 994.6zM308.06 982L315.46 994.4L300.66 994.4zM329.37 981.8L336.77 994.2L321.97 994.2zM350.69 981.6L358.09 994L343.29 994zM372 981.4L379.4 993.8L364.6 993.8zM393.31 981.4L400.71 993.8L385.91 993.8zM414.63 981.2L422.03 993.6L407.23 993.6zM435.94 981L443.34 993.4L428.54 993.4zM457.26 980.8L464.66 993.2L449.86 993.2zM478.57 980.6L485.97 993L471.17 993zM499.89 980.4L507.29 992.8L492.49 992.8zM521.2 980.2L528.6 992.6L513.8 992.6zM542.51 980L549.91 992.4L535.11 992.4zM563.83 979.8L571.23 992.2L556.43 992.2zM585.14 979.7L592.54 992.1L577.74 992.1zM606.46 979.7L613.86 992.1L599.06 992.1zM627.77 979.6L635.17 992L620.37 992z" fill="#1C6EDD"/></g><g><path d="M512.3 610H569.5" stroke="#626262" stroke-width="1.1"/><path d="M535.55 604.65h10.7v10.7h-10.7z" fill="#646464"/><text x="575.1" y="618.1" font-size="25.8" textLength="55" lengthAdjust="spacingAndGlyphs">20cm</text><path d="M512.3 640.8H569.5" stroke="#EF3F40" stroke-width="1.1"/><path d="M534.8 640.8a6.1 6.1 0 1 0 12.2 0a6.1 6.1 0 1 0 -12.2 0z" fill="#EF3F40"/><text x="575.1" y="649.2" font-size="25.8" textLength="55" lengthAdjust="spacingAndGlyphs">40cm</text><path d="M512.3 671.5H569.5" stroke="#1F6FDD" stroke-width="1.1"/><path d="M540.9 664.1L548.3 676.5L533.5 676.5z" fill="#1C6EDD"/><text x="575.1" y="680.2" font-size="25.8" textLength="55" lengthAdjust="spacingAndGlyphs">60cm</text></g>
<g><path d="M71.9 1115.2V1595.8H668.7V1586.8" fill="none" stroke="#000" stroke-width="2.5" stroke-linejoin="miter"/><path d="M71.9 1595.8h9M71.9 1555.75h4.5M71.9 1515.7h9M71.9 1475.65h4.5M71.9 1435.6h9M71.9 1395.55h4.5M71.9 1355.5h9M71.9 1315.45h4.5M71.9 1275.4h9M71.9 1235.35h4.5M71.9 1195.3h9M71.9 1155.25h4.5M71.9 1115.2h9M71.9 1595.8v-9M114.53 1595.8v-4.5M157.16 1595.8v-9M199.79 1595.8v-4.5M242.41 1595.8v-9M285.04 1595.8v-4.5M327.67 1595.8v-9M370.3 1595.8v-4.5M412.93 1595.8v-9M455.56 1595.8v-4.5M498.19 1595.8v-9M540.81 1595.8v-4.5M583.44 1595.8v-9M626.07 1595.8v-4.5M668.7 1595.8v-9" stroke="#000" stroke-width="2.3" fill="none"/><g font-size="20.6"><text x="61" y="1604.5" text-anchor="end">−5</text><text x="61" y="1524.4" text-anchor="end">0</text><text x="61" y="1444.3" text-anchor="end">5</text><text x="61" y="1364.2" text-anchor="end">10</text><text x="61" y="1284.1" text-anchor="end">15</text><text x="61" y="1204" text-anchor="end">20</text><text x="61" y="1123.9" text-anchor="end">25</text><text x="71.9" y="1623.8" text-anchor="middle">0</text><text x="157.16" y="1623.8" text-anchor="middle">20</text><text x="242.41" y="1623.8" text-anchor="middle">40</text><text x="327.67" y="1623.8" text-anchor="middle">60</text><text x="412.93" y="1623.8" text-anchor="middle">80</text><text x="498.19" y="1623.8" text-anchor="middle">100</text><text x="583.44" y="1623.8" text-anchor="middle">120</text><text x="668.7" y="1623.8" text-anchor="middle">140</text></g><text x="367" y="1655" text-anchor="middle" font-size="24.5">Time (min)</text><text transform="translate(19.9 1351.5) rotate(-90)" text-anchor="middle" font-size="24.4" textLength="253.3" lengthAdjust="spacingAndGlyphs">Pore water pressure (kpa)</text><text x="325.3" y="1568.5" font-size="24.3" textLength="104.5" lengthAdjust="spacingAndGlyphs">(c)100L/H</text></g><g clip-path="url(#c2)"><clipPath id="c2"><rect x="71.9" y="1085.2" width="616.8" height="510.6"/></clipPath><polyline points="76,1481 80.3,1478 85.5,1466 86.3,1448 91,1441 91.7,1426.8 93,1414 93.3,1408 94.3,1332.4 96,1320 96.8,1312 98,1300 100,1285 99.5,1268 99.8,1256 101.8,1248 102.2,1236 102.7,1220.5 103.7,1192.5 104.6,1166 105.8,1149.6 107.9,1162 108.8,1174.6 109.2,1190 109.6,1201 109.6,1209 111.5,1222 114.7,1238.6 116.9,1249 120.6,1257 125.7,1262 127.9,1266 131.5,1268.5 136,1270.5 157.16,1274.4 178.47,1275.8 199.79,1277.3 221.1,1275.8 242.41,1277.3 263.73,1275.8 285.04,1275.4 306.36,1273.2 327.67,1274.6 348.99,1274.6 370.3,1273.2 391.61,1271.8 412.93,1270.5 434.24,1268.5 455.56,1269.4 476.87,1267.7 498.19,1269.4 519.5,1269.4 540.81,1269.4 562.13,1267.2 583.44,1265.8 604.76,1265.8 626.07,1263.9" fill="none" stroke="#626262" stroke-width="1.15" stroke-linejoin="round"/><path d="M70.65 1475.65h10.7v10.7h-10.7zM74.95 1472.65h10.7v10.7h-10.7zM80.15 1460.65h10.7v10.7h-10.7zM80.95 1442.65h10.7v10.7h-10.7zM85.65 1435.65h10.7v10.7h-10.7zM86.35 1421.45h10.7v10.7h-10.7zM87.65 1408.65h10.7v10.7h-10.7zM87.95 1402.65h10.7v10.7h-10.7zM88.95 1327.05h10.7v10.7h-10.7zM90.65 1314.65h10.7v10.7h-10.7zM91.45 1306.65h10.7v10.7h-10.7zM92.65 1294.65h10.7v10.7h-10.7zM94.65 1279.65h10.7v10.7h-10.7zM94.15 1262.65h10.7v10.7h-10.7zM94.45 1250.65h10.7v10.7h-10.7zM96.45 1242.65h10.7v10.7h-10.7zM96.85 1230.65h10.7v10.7h-10.7zM97.35 1215.15h10.7v10.7h-10.7zM98.35 1187.15h10.7v10.7h-10.7zM99.25 1160.65h10.7v10.7h-10.7zM100.45 1144.25h10.7v10.7h-10.7zM102.55 1156.65h10.7v10.7h-10.7zM103.45 1169.25h10.7v10.7h-10.7zM103.85 1184.65h10.7v10.7h-10.7zM104.25 1195.65h10.7v10.7h-10.7zM104.25 1203.65h10.7v10.7h-10.7zM106.15 1216.65h10.7v10.7h-10.7zM109.35 1233.25h10.7v10.7h-10.7zM111.55 1243.65h10.7v10.7h-10.7zM115.25 1251.65h10.7v10.7h-10.7zM120.35 1256.65h10.7v10.7h-10.7zM122.55 1260.65h10.7v10.7h-10.7zM126.15 1263.15h10.7v10.7h-10.7zM130.65 1265.15h10.7v10.7h-10.7zM151.81 1269.05h10.7v10.7h-10.7zM173.12 1270.45h10.7v10.7h-10.7zM194.44 1271.95h10.7v10.7h-10.7zM215.75 1270.45h10.7v10.7h-10.7zM237.06 1271.95h10.7v10.7h-10.7zM258.38 1270.45h10.7v10.7h-10.7zM279.69 1270.05h10.7v10.7h-10.7zM301.01 1267.85h10.7v10.7h-10.7zM322.32 1269.25h10.7v10.7h-10.7zM343.64 1269.25h10.7v10.7h-10.7zM364.95 1267.85h10.7v10.7h-10.7zM386.26 1266.45h10.7v10.7h-10.7zM407.58 1265.15h10.7v10.7h-10.7zM428.89 1263.15h10.7v10.7h-10.7zM450.21 1264.05h10.7v10.7h-10.7zM471.52 1262.35h10.7v10.7h-10.7zM492.84 1264.05h10.7v10.7h-10.7zM514.15 1264.05h10.7v10.7h-10.7zM535.46 1264.05h10.7v10.7h-10.7zM556.78 1261.85h10.7v10.7h-10.7zM578.09 1260.45h10.7v10.7h-10.7zM599.41 1260.45h10.7v10.7h-10.7zM620.72 1258.55h10.7v10.7h-10.7z" fill="#646464"/><polyline points="72.5,1479.8 76,1479.8 79.5,1480 84,1480.5 85.5,1471 86.4,1456 92.5,1453.4 93.8,1442.9 94.7,1428.5 95.2,1407.4 95.9,1384.3 96.5,1372.3 97.3,1362.2 98,1345.4 98.7,1316.6 99.5,1300.9 100.1,1290.6 100.5,1281.1 101.7,1267.7 102.2,1257.5 102.9,1245 103.8,1229.8 106.7,1208.8 106.5,1186 106.2,1151 108.8,1191.2 110,1219.5 111.8,1230.4 113.4,1238.1 114.3,1245.1 116.5,1254.8 118.4,1261.8 122.4,1269.9 126.1,1275.7 130.5,1279.8 135.6,1281.2 157.16,1282 178.47,1283.5 199.79,1284.8 221.1,1283.5 242.41,1284.8 263.73,1283.5 285.04,1283.8 306.36,1280.5 327.67,1281.9 348.99,1281.9 370.3,1280.5 391.61,1279.1 412.93,1277.2 434.24,1276.4 455.56,1277.7 476.87,1276.1 498.19,1281.6 519.5,1281.6 540.81,1281.6 562.13,1280.2 583.44,1278.8 604.76,1278.8 626.07,1276.3" fill="none" stroke="#EF3F40" stroke-width="1.15" stroke-linejoin="round"/><path d="M66.4 1479.8a6.1 6.1 0 1 0 12.2 0a6.1 6.1 0 1 0 -12.2 0zM69.9 1479.8a6.1 6.1 0 1 0 12.2 0a6.1 6.1 0 1 0 -12.2 0zM73.4 1480a6.1 6.1 0 1 0 12.2 0a6.1 6.1 0 1 0 -12.2 0zM77.9 1480.5a6.1 6.1 0 1 0 12.2 0a6.1 6.1 0 1 0 -12.2 0zM79.4 1471a6.1 6.1 0 1 0 12.2 0a6.1 6.1 0 1 0 -12.2 0zM80.3 1456a6.1 6.1 0 1 0 12.2 0a6.1 6.1 0 1 0 -12.2 0zM86.4 1453.4a6.1 6.1 0 1 0 12.2 0a6.1 6.1 0 1 0 -12.2 0zM87.7 1442.9a6.1 6.1 0 1 0 12.2 0a6.1 6.1 0 1 0 -12.2 0zM88.6 1428.5a6.1 6.1 0 1 0 12.2 0a6.1 6.1 0 1 0 -12.2 0zM89.1 1407.4a6.1 6.1 0 1 0 12.2 0a6.1 6.1 0 1 0 -12.2 0zM89.8 1384.3a6.1 6.1 0 1 0 12.2 0a6.1 6.1 0 1 0 -12.2 0zM90.4 1372.3a6.1 6.1 0 1 0 12.2 0a6.1 6.1 0 1 0 -12.2 0zM91.2 1362.2a6.1 6.1 0 1 0 12.2 0a6.1 6.1 0 1 0 -12.2 0zM91.9 1345.4a6.1 6.1 0 1 0 12.2 0a6.1 6.1 0 1 0 -12.2 0zM92.6 1316.6a6.1 6.1 0 1 0 12.2 0a6.1 6.1 0 1 0 -12.2 0zM93.4 1300.9a6.1 6.1 0 1 0 12.2 0a6.1 6.1 0 1 0 -12.2 0zM94 1290.6a6.1 6.1 0 1 0 12.2 0a6.1 6.1 0 1 0 -12.2 0zM94.4 1281.1a6.1 6.1 0 1 0 12.2 0a6.1 6.1 0 1 0 -12.2 0zM95.6 1267.7a6.1 6.1 0 1 0 12.2 0a6.1 6.1 0 1 0 -12.2 0zM96.1 1257.5a6.1 6.1 0 1 0 12.2 0a6.1 6.1 0 1 0 -12.2 0zM96.8 1245a6.1 6.1 0 1 0 12.2 0a6.1 6.1 0 1 0 -12.2 0zM97.7 1229.8a6.1 6.1 0 1 0 12.2 0a6.1 6.1 0 1 0 -12.2 0zM100.6 1208.8a6.1 6.1 0 1 0 12.2 0a6.1 6.1 0 1 0 -12.2 0zM100.4 1186a6.1 6.1 0 1 0 12.2 0a6.1 6.1 0 1 0 -12.2 0zM100.1 1151a6.1 6.1 0 1 0 12.2 0a6.1 6.1 0 1 0 -12.2 0zM102.7 1191.2a6.1 6.1 0 1 0 12.2 0a6.1 6.1 0 1 0 -12.2 0zM103.9 1219.5a6.1 6.1 0 1 0 12.2 0a6.1 6.1 0 1 0 -12.2 0zM105.7 1230.4a6.1 6.1 0 1 0 12.2 0a6.1 6.1 0 1 0 -12.2 0zM107.3 1238.1a6.1 6.1 0 1 0 12.2 0a6.1 6.1 0 1 0 -12.2 0zM108.2 1245.1a6.1 6.1 0 1 0 12.2 0a6.1 6.1 0 1 0 -12.2 0zM110.4 1254.8a6.1 6.1 0 1 0 12.2 0a6.1 6.1 0 1 0 -12.2 0zM112.3 1261.8a6.1 6.1 0 1 0 12.2 0a6.1 6.1 0 1 0 -12.2 0zM116.3 1269.9a6.1 6.1 0 1 0 12.2 0a6.1 6.1 0 1 0 -12.2 0zM120 1275.7a6.1 6.1 0 1 0 12.2 0a6.1 6.1 0 1 0 -12.2 0zM124.4 1279.8a6.1 6.1 0 1 0 12.2 0a6.1 6.1 0 1 0 -12.2 0zM129.5 1281.2a6.1 6.1 0 1 0 12.2 0a6.1 6.1 0 1 0 -12.2 0zM151.06 1282a6.1 6.1 0 1 0 12.2 0a6.1 6.1 0 1 0 -12.2 0zM172.37 1283.5a6.1 6.1 0 1 0 12.2 0a6.1 6.1 0 1 0 -12.2 0zM193.69 1284.8a6.1 6.1 0 1 0 12.2 0a6.1 6.1 0 1 0 -12.2 0zM215 1283.5a6.1 6.1 0 1 0 12.2 0a6.1 6.1 0 1 0 -12.2 0zM236.31 1284.8a6.1 6.1 0 1 0 12.2 0a6.1 6.1 0 1 0 -12.2 0zM257.63 1283.5a6.1 6.1 0 1 0 12.2 0a6.1 6.1 0 1 0 -12.2 0zM278.94 1283.8a6.1 6.1 0 1 0 12.2 0a6.1 6.1 0 1 0 -12.2 0zM300.26 1280.5a6.1 6.1 0 1 0 12.2 0a6.1 6.1 0 1 0 -12.2 0zM321.57 1281.9a6.1 6.1 0 1 0 12.2 0a6.1 6.1 0 1 0 -12.2 0zM342.89 1281.9a6.1 6.1 0 1 0 12.2 0a6.1 6.1 0 1 0 -12.2 0zM364.2 1280.5a6.1 6.1 0 1 0 12.2 0a6.1 6.1 0 1 0 -12.2 0zM385.51 1279.1a6.1 6.1 0 1 0 12.2 0a6.1 6.1 0 1 0 -12.2 0zM406.83 1277.2a6.1 6.1 0 1 0 12.2 0a6.1 6.1 0 1 0 -12.2 0zM428.14 1276.4a6.1 6.1 0 1 0 12.2 0a6.1 6.1 0 1 0 -12.2 0zM449.46 1277.7a6.1 6.1 0 1 0 12.2 0a6.1 6.1 0 1 0 -12.2 0zM470.77 1276.1a6.1 6.1 0 1 0 12.2 0a6.1 6.1 0 1 0 -12.2 0zM492.09 1281.6a6.1 6.1 0 1 0 12.2 0a6.1 6.1 0 1 0 -12.2 0zM513.4 1281.6a6.1 6.1 0 1 0 12.2 0a6.1 6.1 0 1 0 -12.2 0zM534.71 1281.6a6.1 6.1 0 1 0 12.2 0a6.1 6.1 0 1 0 -12.2 0zM556.03 1280.2a6.1 6.1 0 1 0 12.2 0a6.1 6.1 0 1 0 -12.2 0zM577.34 1278.8a6.1 6.1 0 1 0 12.2 0a6.1 6.1 0 1 0 -12.2 0zM598.66 1278.8a6.1 6.1 0 1 0 12.2 0a6.1 6.1 0 1 0 -12.2 0zM619.97 1276.3a6.1 6.1 0 1 0 12.2 0a6.1 6.1 0 1 0 -12.2 0z" fill="#EF3F40"/><polyline points="72.5,1495.53 74.5,1495.27 76.5,1495.01 78.5,1494.75 80.5,1494.49 82.5,1494.23 84.5,1493.97 86.5,1493.71 88.5,1493.45 90.5,1493.19 92.5,1492.96 94.5,1492.78 96.5,1492.61 98.5,1492.43 100.5,1492.3 98.5,1488 100,1482 103,1477 105.6,1474.3 110,1483 112.5,1483 115,1483 117.5,1483 120,1483 122.5,1483 125,1483 127.5,1483 130,1483 133,1483.2 135.5,1483.3 157.16,1483.2 178.47,1483.2 199.79,1483.2 221.1,1483.2 242.41,1483.2 263.73,1483.2 285.04,1483.2 306.36,1483.2 327.67,1483.2 348.99,1483.2 370.3,1483.2 391.61,1483.2 412.93,1483.2 434.24,1483.2 455.56,1483.2 476.87,1483.2 498.19,1483.2 519.5,1483.2 540.81,1483.2 562.13,1483.2 583.44,1483.2 604.76,1483.2 626.07,1483.2" fill="none" stroke="#1F6FDD" stroke-width="1.15" stroke-linejoin="round"/><path d="M72.5 1487.53L79.9 1499.93L65.1 1499.93zM74.5 1487.27L81.9 1499.67L67.1 1499.67zM76.5 1487.01L83.9 1499.41L69.1 1499.41zM78.5 1486.75L85.9 1499.15L71.1 1499.15zM80.5 1486.49L87.9 1498.89L73.1 1498.89zM82.5 1486.23L89.9 1498.63L75.1 1498.63zM84.5 1485.97L91.9 1498.38L77.1 1498.38zM86.5 1485.71L93.9 1498.12L79.1 1498.12zM88.5 1485.45L95.9 1497.86L81.1 1497.86zM90.5 1485.19L97.9 1497.6L83.1 1497.6zM92.5 1484.96L99.9 1497.36L85.1 1497.36zM94.5 1484.78L101.9 1497.18L87.1 1497.18zM96.5 1484.61L103.9 1497.01L89.1 1497.01zM98.5 1484.43L105.9 1496.83L91.1 1496.83zM100.5 1484.3L107.9 1496.7L93.1 1496.7zM98.5 1480L105.9 1492.4L91.1 1492.4zM100 1474L107.4 1486.4L92.6 1486.4zM103 1469L110.4 1481.4L95.6 1481.4zM105.6 1466.3L113 1478.7L98.2 1478.7zM110 1475L117.4 1487.4L102.6 1487.4zM112.5 1475L119.9 1487.4L105.1 1487.4zM115 1475L122.4 1487.4L107.6 1487.4zM117.5 1475L124.9 1487.4L110.1 1487.4zM120 1475L127.4 1487.4L112.6 1487.4zM122.5 1475L129.9 1487.4L115.1 1487.4zM125 1475L132.4 1487.4L117.6 1487.4zM127.5 1475L134.9 1487.4L120.1 1487.4zM130 1475L137.4 1487.4L122.6 1487.4zM133 1475.2L140.4 1487.6L125.6 1487.6zM135.5 1475.3L142.9 1487.7L128.1 1487.7zM157.16 1475.2L164.56 1487.6L149.76 1487.6zM178.47 1475.2L185.87 1487.6L171.07 1487.6zM199.79 1475.2L207.19 1487.6L192.39 1487.6zM221.1 1475.2L228.5 1487.6L213.7 1487.6zM242.41 1475.2L249.81 1487.6L235.01 1487.6zM263.73 1475.2L271.13 1487.6L256.33 1487.6zM285.04 1475.2L292.44 1487.6L277.64 1487.6zM306.36 1475.2L313.76 1487.6L298.96 1487.6zM327.67 1475.2L335.07 1487.6L320.27 1487.6zM348.99 1475.2L356.39 1487.6L341.59 1487.6zM370.3 1475.2L377.7 1487.6L362.9 1487.6zM391.61 1475.2L399.01 1487.6L384.21 1487.6zM412.93 1475.2L420.33 1487.6L405.53 1487.6zM434.24 1475.2L441.64 1487.6L426.84 1487.6zM455.56 1475.2L462.96 1487.6L448.16 1487.6zM476.87 1475.2L484.27 1487.6L469.47 1487.6zM498.19 1475.2L505.59 1487.6L490.79 1487.6zM519.5 1475.2L526.9 1487.6L512.1 1487.6zM540.81 1475.2L548.21 1487.6L533.41 1487.6zM562.13 1475.2L569.53 1487.6L554.73 1487.6zM583.44 1475.2L590.84 1487.6L576.04 1487.6zM604.76 1475.2L612.16 1487.6L597.36 1487.6zM626.07 1475.2L633.47 1487.6L618.67 1487.6z" fill="#1C6EDD"/></g><g><path d="M525.9 1155.5H582.6" stroke="#626262" stroke-width="1.1"/><path d="M548.55 1150.15h10.7v10.7h-10.7z" fill="#646464"/><text x="587.8" y="1163.7" font-size="25.8" textLength="55.4" lengthAdjust="spacingAndGlyphs">20cm</text><path d="M525.9 1186.4H582.6" stroke="#EF3F40" stroke-width="1.1"/><path d="M547.8 1186.4a6.1 6.1 0 1 0 12.2 0a6.1 6.1 0 1 0 -12.2 0z" fill="#EF3F40"/><text x="587.8" y="1194.8" font-size="25.8" textLength="55.4" lengthAdjust="spacingAndGlyphs">40cm</text><path d="M525.9 1217.1H582.6" stroke="#1F6FDD" stroke-width="1.1"/><path d="M553.9 1209.7L561.3 1222.1L546.5 1222.1z" fill="#1C6EDD"/><text x="587.8" y="1225.5" font-size="25.8" textLength="55.4" lengthAdjust="spacingAndGlyphs">60cm</text></g>
</svg>
</body></html>
